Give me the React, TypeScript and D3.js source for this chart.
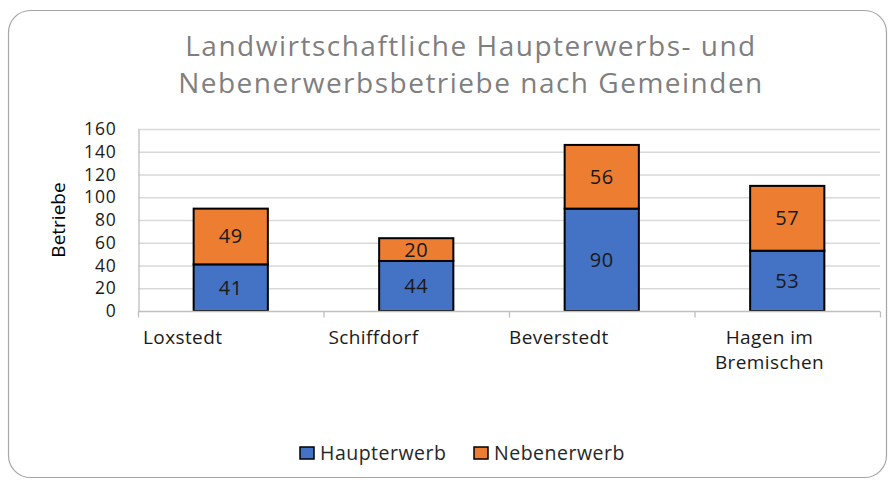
import React, { useEffect, useRef } from 'react';
import * as d3 from 'd3';

const categories = ['Loxstedt', 'Schiffdorf', 'Beverstedt', 'Hagen im Bremischen'];
const categoryLines = [['Loxstedt'], ['Schiffdorf'], ['Beverstedt'], ['Hagen im', 'Bremischen']];
const haupterwerb = [41, 44, 90, 53];
const nebenerwerb = [49, 20, 56, 57];
const seriesNames = ['Haupterwerb', 'Nebenerwerb'];
const seriesColors = ['#4472C4', '#ED7D31'];
const yTicks = [0, 20, 40, 60, 80, 100, 120, 140, 160];
const titleLines = ['Landwirtschaftliche Haupterwerbs- und', 'Nebenerwerbsbetriebe nach Gemeinden'];

const FONT = '"Open Sans", "Noto Sans", sans-serif';

const App = () => {
  const svgRef = useRef<SVGSVGElement>(null);

  useEffect(() => {
    const svg = d3.select(svgRef.current);
    svg.selectAll('*').remove();

    const width = 895;
    const height = 480;
    const margin = { top: 129, right: 15, bottom: 169, left: 138 };

    // chart frame
    svg.append('rect')
      .attr('x', 8.5).attr('y', 10.5)
      .attr('width', 878).attr('height', 467)
      .attr('rx', 22).attr('ry', 22)
      .attr('fill', '#fff')
      .attr('stroke', '#a6a6a6')
      .attr('stroke-width', 1.2);

    // title
    svg.append('text')
      .attr('x', 471).attr('y', 56)
      .attr('text-anchor', 'middle')
      .attr('font-family', FONT)
      .attr('font-size', 28)
      .attr('fill', '#7f7f7f')
      .attr('letter-spacing', 1.5)
      .selectAll('tspan')
      .data(titleLines)
      .enter().append('tspan')
      .attr('x', 471)
      .attr('dy', (d, i) => (i === 0 ? 0 : 37))
      .text(d => d);

    const xScale = d3.scaleBand()
      .domain(categories)
      .range([margin.left, width - margin.right])
      .paddingInner(0)
      .paddingOuter(0);

    const yScale = d3.scaleLinear()
      .domain([0, 160])
      .range([height - margin.bottom, margin.top]);

    // gridlines
    svg.append('g')
      .selectAll('line')
      .data(yTicks.slice(1))
      .enter().append('line')
      .attr('x1', margin.left).attr('x2', width - margin.right)
      .attr('y1', d => yScale(d) + 0.5).attr('y2', d => yScale(d) + 0.5)
      .attr('stroke', '#d9d9d9')
      .attr('stroke-width', 1.3);

    // y axis
    const yAxis = d3.axisLeft(yScale).tickValues(yTicks).tickSize(0).tickPadding(22);
    const yg = svg.append('g')
      .attr('transform', `translate(${margin.left + 0.5},0)`)
      .call(yAxis);
    yg.select('.domain').attr('stroke', '#bfbfbf').attr('stroke-width', 1.3);
    yg.selectAll('.tick text')
      .attr('font-family', FONT)
      .attr('font-size', 17.5)
      .attr('letter-spacing', 0.8)
      .attr('fill', '#1a1a1a');

    // stacked bars
    const stackData = categories.map((c, i) => ({ cat: c, Haupterwerb: haupterwerb[i], Nebenerwerb: nebenerwerb[i] }));
    const stacked = d3.stack<any>().keys(seriesNames)(stackData);
    const barWidth = xScale.bandwidth() * 0.4;

    stacked.forEach((layer, si) => {
      const g = svg.append('g');
      g.selectAll('rect')
        .data(layer)
        .enter().append('rect')
        .attr('x', d => xScale(d.data.cat)! + (xScale.bandwidth() - barWidth) / 2)
        .attr('y', d => yScale(d[1]))
        .attr('width', barWidth)
        .attr('height', d => yScale(d[0]) - yScale(d[1]))
        .attr('fill', seriesColors[si])
        .attr('stroke', '#000')
        .attr('stroke-width', 2);
      g.selectAll('text')
        .data(layer)
        .enter().append('text')
        .attr('x', d => xScale(d.data.cat)! + xScale.bandwidth() / 2)
        .attr('y', d => (yScale(d[0]) + yScale(d[1])) / 2)
        .attr('dy', '0.35em')
        .attr('text-anchor', 'middle')
        .attr('font-family', FONT)
        .attr('font-size', 20)
        .attr('letter-spacing', 0.5)
        .attr('fill', '#1a1a1a')
        .text(d => d[1] - d[0]);
    });

    // x axis
    const base = yScale(0) + 0.5;
    svg.append('line')
      .attr('x1', margin.left).attr('x2', width - margin.right)
      .attr('y1', base).attr('y2', base)
      .attr('stroke', '#bfbfbf').attr('stroke-width', 1.3);
    const tickXs = categories.map(c => xScale(c)!).concat([width - margin.right]);
    svg.append('g')
      .selectAll('line')
      .data(tickXs)
      .enter().append('line')
      .attr('x1', d => d + 0.5).attr('x2', d => d + 0.5)
      .attr('y1', base).attr('y2', base + 6)
      .attr('stroke', '#bfbfbf').attr('stroke-width', 1.3);

    // category labels
    const labelOffset = [5, 5, 0, 75];
    categoryLines.forEach((lines, i) => {
      const x0 = xScale(categories[i])!;
      const multi = lines.length > 1;
      svg.append('text')
        .attr('font-family', FONT)
        .attr('font-size', 19)
        .attr('letter-spacing', 0.4)
        .attr('fill', '#1a1a1a')
        .attr('text-anchor', multi ? 'middle' : 'start')
        .selectAll('tspan')
        .data(lines)
        .enter().append('tspan')
        .attr('x', x0 + labelOffset[i])
        .attr('y', (d, j) => base + 32 + j * 25)
        .text(d => d);
    });

    // y axis title
    svg.append('text')
      .attr('transform', `translate(65,220) rotate(-90)`)
      .attr('text-anchor', 'middle')
      .attr('font-family', FONT)
      .attr('font-size', 19)
      .attr('fill', '#000')
      .text('Betriebe');

    // legend
    const legendX = [300, 474];
    seriesNames.forEach((name, i) => {
      svg.append('rect')
        .attr('x', legendX[i]).attr('y', 447)
        .attr('width', 14).attr('height', 12)
        .attr('fill', seriesColors[i])
        .attr('stroke', '#000')
        .attr('stroke-width', 1.5);
      svg.append('text')
        .attr('x', legendX[i] + 20).attr('y', 460)
        .attr('font-family', FONT)
        .attr('font-size', 19.5)
        .attr('letter-spacing', 0.5)
        .attr('fill', '#262626')
        .text(name);
    });
  }, []);

  return (
    <svg ref={svgRef} width={895} height={480} style={{ position: 'absolute', left: 0, top: 0 }}></svg>
  );
};

export default App;
